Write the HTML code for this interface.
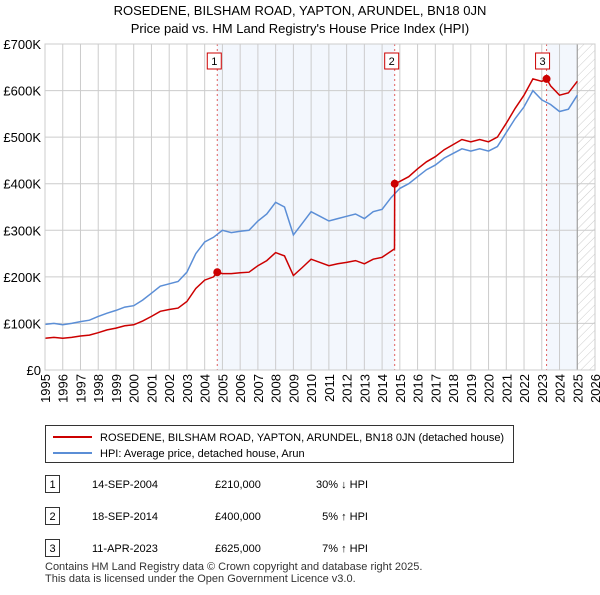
<!DOCTYPE html>
<html><head><meta charset="utf-8"><style>
body{margin:0;background:#fff;font-family:"Liberation Sans",sans-serif;}
svg text{font-family:"Liberation Sans",sans-serif;}
</style></head><body>
<svg id="c" width="600" height="590" xmlns="http://www.w3.org/2000/svg">
<defs><pattern id="hatch" width="6" height="6" patternUnits="userSpaceOnUse" patternTransform="rotate(45)"><line x1="0" y1="0" x2="0" y2="6" stroke="#ccc" stroke-width="1"/></pattern></defs>
<text x="300" y="15" text-anchor="middle" font-size="13">ROSEDENE, BILSHAM ROAD, YAPTON, ARUNDEL, BN18 0JN</text>
<text x="300" y="33" text-anchor="middle" font-size="13">Price paid vs. HM Land Registry's House Price Index (HPI)</text>
<g id="plot"></g>
<g>
<rect x="45.5" y="425.5" width="468" height="37" fill="#fff" stroke="#333"/>
<line x1="53" y1="437" x2="92" y2="437" stroke="#cc0000" stroke-width="2"/>
<text x="100" y="441" font-size="11">ROSEDENE, BILSHAM ROAD, YAPTON, ARUNDEL, BN18 0JN (detached house)</text>
<line x1="53" y1="453" x2="92" y2="453" stroke="#5b8ed6" stroke-width="2"/>
<text x="100" y="457" font-size="11">HPI: Average price, detached house, Arun</text>
</g>
<g id="table" font-size="11"></g>
<text x="45" y="570" font-size="11" fill="#333">Contains HM Land Registry data © Crown copyright and database right 2025.</text>
<text x="45" y="582" font-size="11" fill="#333">This data is licensed under the Open Government Licence v3.0.</text>
</svg>
<script>
const hpiYears=[1995,1995.5,1996,1996.5,1997,1997.5,1998,1998.5,1999,1999.5,2000,2000.5,2001,2001.5,2002,2002.5,2003,2003.5,2004,2004.5,2005,2005.5,2006,2006.5,2007,2007.5,2008,2008.5,2009,2009.5,2010,2010.5,2011,2011.5,2012,2012.5,2013,2013.5,2014,2014.5,2015,2015.5,2016,2016.5,2017,2017.5,2018,2018.5,2019,2019.5,2020,2020.5,2021,2021.5,2022,2022.5,2023,2023.5,2024,2024.5,2025];
const hpiValues=[98,100,97,100,104,107,115,122,128,135,138,150,165,180,185,190,210,250,275,285,300,295,298,300,320,335,360,350,290,315,340,330,320,325,330,335,325,340,345,370,390,400,415,430,440,455,465,475,470,475,470,480,510,540,565,600,580,570,555,560,590];
const priceYears=[1995,1995.5,1996,1996.5,1997,1997.5,1998,1998.5,1999,1999.5,2000,2000.5,2001,2001.5,2002,2002.5,2003,2003.5,2004,2004.5,2004.71,2005,2005.5,2006,2006.5,2007,2007.5,2008,2008.5,2009,2009.5,2010,2010.5,2011,2011.5,2012,2012.5,2013,2013.5,2014,2014.5,2014.7,2014.71,2015,2015.5,2016,2016.5,2017,2017.5,2018,2018.5,2019,2019.5,2020,2020.5,2021,2021.5,2022,2022.5,2023,2023.27,2023.5,2024,2024.5,2025];
const priceValues=[68,70,68,70,73,75,80,86,90,95,97,105,115,126,130,133,147,175,193,200,210,207,207,209,210,224,235,252,245,203,220,238,231,224,228,231,235,228,238,242,255,260,400,405,415,432,447,458,473,484,495,490,495,490,500,530,562,590,625,620,625,610,590,595,620];
const saleYears=[2004.71,2014.71,2023.27];
const saleValues=[210,400,625];
const saleLabels=["1","2","3"];
const saleDates=["14-SEP-2004","18-SEP-2014","11-APR-2023"];
const salePrices=["£210,000","£400,000","£625,000"];
const saleHpi=["30% ↓ HPI","5% ↑ HPI","7% ↑ HPI"];
const yTicks=[0,100,200,300,400,500,600,700];
const yTickLabels=["£0","£100K","£200K","£300K","£400K","£500K","£600K","£700K"];
const xTicks=[1995,1996,1997,1998,1999,2000,2001,2002,2003,2004,2005,2006,2007,2008,2009,2010,2011,2012,2013,2014,2015,2016,2017,2018,2019,2020,2021,2022,2023,2024,2025,2026];

const NS="http://www.w3.org/2000/svg";
const L=45,R=595,T=44,B=370;
const xS=y=>L+(y-1995)/(2026-1995)*(R-L);
const yS=v=>B-v/700*(B-T);
const plot=document.getElementById('plot');
function mk(tag,attrs,parent){const e=document.createElementNS(NS,tag);for(const k in attrs)e.setAttribute(k,attrs[k]);(parent||plot).appendChild(e);return e;}

let s1=mk('rect',{x:xS(saleYears[0]),y:T,width:xS(saleYears[1])-xS(saleYears[0]),height:B-T,fill:'#eef3fc',opacity:0.7});


let s3=mk('rect',{x:xS(saleYears[2]),y:T,width:xS(2025)-xS(saleYears[2]),height:B-T,fill:'#eef3fc',opacity:0.7});


let hz=mk('rect',{x:xS(2025),y:T,width:R-xS(2025),height:B-T,fill:'url(#hatch)'});



xTicks.forEach(t=>{
 const g=mk('line',{x1:xS(t),x2:xS(t),y1:T,y2:B,stroke:'#ccc','stroke-width':1});
 
 
 const x=xS(t)+5, y=B+4;
 const tx=mk('text',{x:x,y:y,'text-anchor':'end','font-size':13,transform:'rotate(-90 '+x+' '+y+')'});
 tx.textContent=t;
 
 
});
yTicks.forEach((t,i)=>{
 const g=mk('line',{x1:L,x2:R,y1:yS(t),y2:yS(t),stroke:'#ccc','stroke-width':1});
 
 
 const tx=mk('text',{x:L-4,y:yS(t)+5,'text-anchor':'end','font-size':13});
 tx.textContent=yTickLabels[i];
 
 
});
let ed=mk('line',{x1:xS(2025),x2:xS(2025),y1:T,y2:B,stroke:'#999','stroke-width':1});



saleYears.forEach((y,i)=>{
 const v=mk('line',{x1:xS(y),x2:xS(y),y1:T,y2:B,stroke:'#e06060','stroke-width':1,'stroke-dasharray':'2,3'});
 
 
});

const pts=(xs,vs)=>xs.map((x,i)=>xS(x).toFixed(1)+','+yS(vs[i]).toFixed(1)).join(' ');
let hl=mk('polyline',{points:pts(hpiYears,hpiValues),fill:'none',stroke:'#5b8ed6','stroke-width':1.5});


let pl=mk('polyline',{points:pts(priceYears,priceValues),fill:'none',stroke:'#cc0000','stroke-width':1.5});



saleYears.forEach((y,i)=>{
 const c=mk('circle',{cx:xS(y),cy:yS(saleValues[i]),r:4,fill:'#cc0000'});
 
 
 const bx=xS(y)-(i==2?4:3);
 const r=mk('rect',{x:bx-7,y:53,width:14,height:16,fill:'#fff',stroke:'#cc0000'});
 
 
 const t=mk('text',{x:bx,y:65,'text-anchor':'middle','font-size':11});
 t.textContent=saleLabels[i];
 
 
});
let ax=mk('rect',{x:L,y:T,width:R-L,height:B-T,fill:'none',stroke:'#ccc'});



const tb=document.getElementById('table');
saleLabels.forEach((lab,i)=>{
 const y=486+i*32;
 const r=mk('rect',{x:45.5,y:y-10.5,width:14,height:17,fill:'#fff',stroke:'#333'},tb);
 
 
 const vals=[[lab,52.5,'middle'],[saleDates[i],92,'start'],[salePrices[i],215,'start'],[saleHpi[i],368,'end']];
 vals.forEach(v=>{
  const t=mk('text',{x:v[1],y:y+2,'text-anchor':v[2],'font-size':11},tb);
  t.textContent=v[0];
  
  
 });
});
</script>
</body></html>
